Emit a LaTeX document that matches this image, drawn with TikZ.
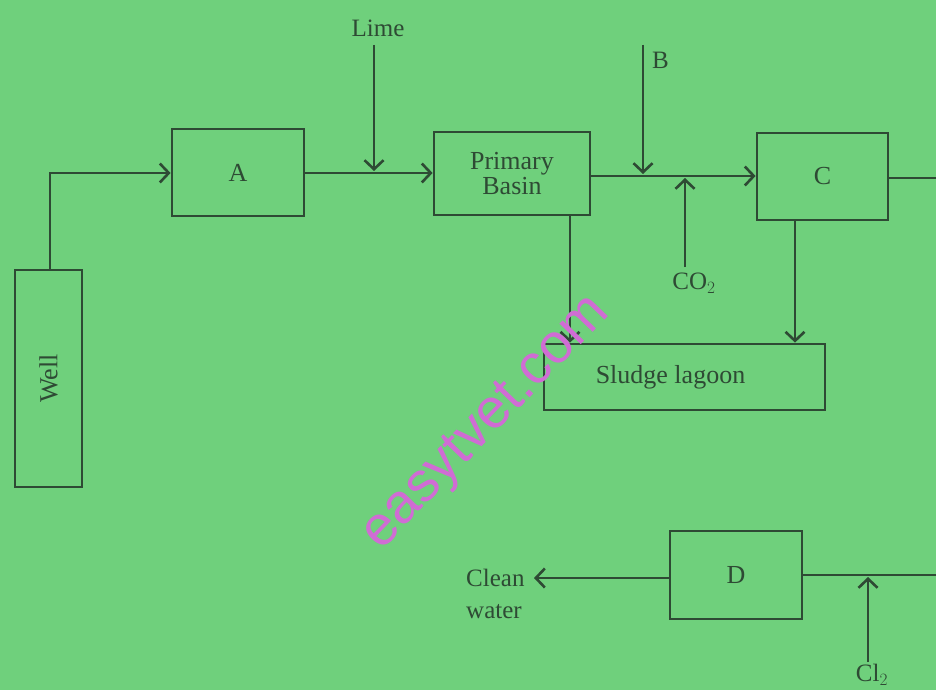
\documentclass[tikz,border=0pt]{standalone}
\usepackage{fontspec}
\setmainfont{Liberation Serif}
\newfontfamily\wmfont{Liberation Sans}
\usetikzlibrary{arrows.meta}
\definecolor{bg}{HTML}{6FD07C}
\definecolor{ink}{HTML}{2E4A34}
\definecolor{wm}{HTML}{D06CD4}
\begin{document}
\begin{tikzpicture}[x=1pt,y=-1pt,
  box/.style={draw=ink,line width=2.8pt,inner sep=0pt,font=\fontsize{26}{28}\selectfont,text=ink},
  flow/.style={draw=ink,line width=2.6pt,-{Straight Barb[length=9pt,width=19pt,line width=2.6pt]}},
  plain/.style={draw=ink,line width=2.6pt},
  lbl/.style={font=\fontsize{25}{27}\selectfont,text=ink,inner sep=0pt}]
\fill[bg] (0,0) rectangle (936,690);
\useasboundingbox (0,0) rectangle (936,690);
% boxes
\node[box,minimum width=67pt,minimum height=217pt] (well) at (48.5,378.5) {\rotatebox{90}{Well}};
\node[box,minimum width=132pt,minimum height=87pt] (A) at (238,172.5) {A};
\node[box,minimum width=156pt,minimum height=83pt,align=center] (PB) at (512,173.5) {Primary\\[-3pt]Basin};
\node[box,minimum width=131pt,minimum height=87pt] (C) at (822.5,176.5) {C};
\node[box,minimum width=281pt,minimum height=66pt] (SL) at (684.5,377) {Sludge lagoon\kern28pt};
\node[box,minimum width=132pt,minimum height=88pt] (D) at (736,575) {D};
% labels
\node[lbl] (lime) at (378,28) {Lime};
\node[lbl,anchor=west] (B) at (652,60) {B};
\node[lbl] (co2) at (694,283) {CO$_2$};
\node[lbl] (cl2) at (872,675) {Cl$_2$};
\node[lbl,align=left,anchor=west] (clean) at (466,594) {Clean\\[5pt]water};
% coordinates
\coordinate (wellturn) at (50,173);
\coordinate (limetop) at (374,45);
\coordinate (limebot) at (374,171);
\coordinate (btop) at (643,45);
\coordinate (bbot) at (643,174);
\coordinate (co2bot) at (685,267);
\coordinate (co2top) at (685,178);
\coordinate (cright) at (936,178);
\coordinate (dright) at (936,575);
\coordinate (cl2bot) at (868,662);
\coordinate (cl2top) at (868,577);
\coordinate (cleanend) at (534,578);
% connectors
\draw[flow] (well.north -| wellturn) -- (wellturn) -- (A.west |- wellturn);
\draw[flow] (A.east |- 0,173) -- (PB.west |- 0,173);
\draw[flow] (limetop) -- (limebot);
\draw[flow] (PB.east |- 0,176) -- (C.west |- 0,176);
\draw[flow] (btop) -- (bbot);
\draw[flow] (co2bot) -- (co2top);
\draw[plain] (C.east |- cright) -- (cright);
\draw[flow] (PB.south -| 570,0) -- (SL.north -| 570,0);
\draw[flow] (C.south -| 795,0) -- (SL.north -| 795,0);
\draw[plain] (dright) -- (D.east);
\draw[flow] (cl2bot) -- (cl2top);
\draw[flow] (D.west |- cleanend) -- (cleanend);
% watermark
\node[text=wm,font=\wmfont\fontsize{56}{58}\selectfont,rotate=46,inner sep=0pt] (wmark) at (487,424) {easytvet.com};
\end{tikzpicture}
\end{document}
